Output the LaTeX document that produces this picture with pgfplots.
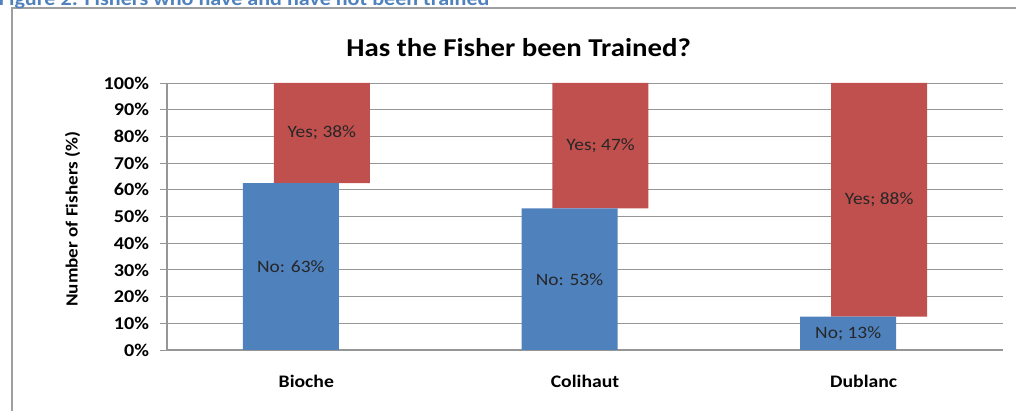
\documentclass[border=0pt]{standalone}
\usepackage{pgfplots}
\pgfplotsset{compat=1.18}
\usepackage{fontspec}
\setmainfont{Carlito}[FakeStretch=1.12]
\definecolor{xlblue}{RGB}{79,129,189}
\definecolor{xlred}{RGB}{192,80,77}
\definecolor{gridgray}{RGB}{150,150,150}
\definecolor{capblue}{RGB}{79,129,189}
\newcommand{\semi}{;}
\pgfplotsset{chartbox/.style={
    at={(125.25pt,45pt)}, anchor=south west,
    scale only axis,
    width=627pt, height=200.25pt,
    xmin=-0.5, xmax=2.5,
    ymin=0, ymax=100}}

\begin{document}
\begin{tikzpicture}[x=1pt,y=1pt]
\useasboundingbox (0,0) rectangle (762,307.5);
% frame of the chart area
\draw[gray!75, line width=1.1pt] (9,-5) -- (9,301.5) -- (775,301.5);
% caption (cut at the top edge)
\node[anchor=base west, inner sep=0pt, text=capblue,
      font=\bfseries\fontsize{14.8}{17}\selectfont] at (-1,303.3)
      {Figure 2: Fishers who have and have not been trained};
% chart title
\node[anchor=base, inner sep=0pt, font=\bfseries\fontsize{19.3}{22}\selectfont]
      at (389,264.75) {Has the Fisher been Trained?};

\begin{axis}[
    chartbox,
    ybar stacked,
    bar width=72pt,
    xtick={0,1,2},
    xticklabels={Bioche,Colihaut,Dublanc},
    ytick={0,10,...,100},
    yticklabel={\pgfmathprintnumber[assume math mode=true]{\tick}\%},
    ymajorgrids,
    grid style={gridgray, line width=0.7pt},
    axis x line*=bottom,
    axis y line*=left,
    axis line style={gridgray, line width=0.8pt, -},
    xtick style={draw=none},
    ytick style={gridgray, line width=0.7pt},
    ytick align=outside,
    major tick length=5pt,
    yticklabel style={font=\bfseries\fontsize{13.5}{15}\selectfont, xshift=-5pt},
    xticklabel style={font=\bfseries\fontsize{13.2}{15}\selectfont, yshift=-15pt},
    ylabel={Number of Fishers (\%)},
    ylabel style={font=\bfseries\fontsize{12.8}{14}\selectfont,
                  at={(axis description cs:-0.113,0.49)}, anchor=center},
  ]
  % No
  \addplot[fill=xlblue, draw=none, bar shift=-11.6pt] coordinates {
    (0,62.5) (1,53) (2,12.5)
  };
  % Yes
  \addplot[fill=xlred, draw=none, bar shift=11.6pt] coordinates {
    (0,37.5) (1,47) (2,87.5)
  };
\end{axis}

% data labels, centred in each bar segment
\begin{axis}[chartbox, hide axis]
  \addplot[draw=none, mark=none, nodes near coords, point meta=explicit symbolic,
           every node near coord/.append style={anchor=center,
               font=\fontsize{13}{15}\selectfont, text=black!85}]
    coordinates {
      (-0.0556,31.25) [No: 63\%]
      (0.0556,81.25)  [Yes\semi{} 38\%]
      (0.9444,26.5)   [No: 53\%]
      (1.0556,76.5)   [Yes\semi{} 47\%]
      (1.9444,6.25)   [No\semi{} 13\%]
      (2.0556,56.25)  [Yes\semi{} 88\%]
    };
\end{axis}
\end{tikzpicture}
\end{document}
